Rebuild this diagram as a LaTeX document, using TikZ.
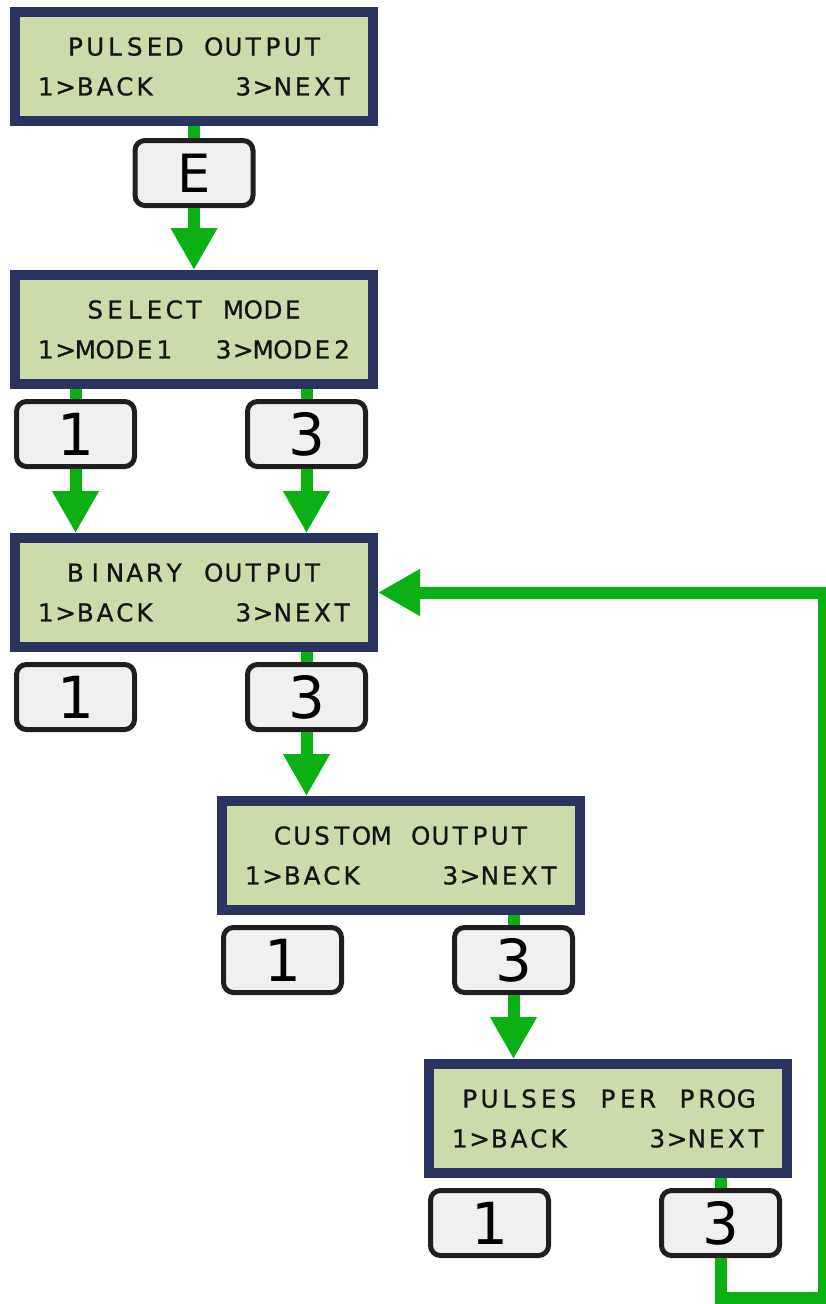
\documentclass[tikz,border=0pt]{standalone}
\usepackage{fontspec}
\setmainfont{DejaVu Sans}
\newfontfamily\lcdfont[FakeBold=0.8]{DejaVu Sans}
\usetikzlibrary{arrows.meta,positioning}
\definecolor{lcdgreen}{RGB}{204,219,170}
\definecolor{lcdframe}{RGB}{43,52,96}
\definecolor{keygray}{RGB}{240,240,240}
\definecolor{flowgreen}{RGB}{10,176,20}
% one character per display cell
\ExplSyntaxOn
\NewDocumentCommand{\lcdrow}{m}{\str_map_inline:nn {#1} {\makebox[11.24pt]{##1}}}
\ExplSyntaxOff
\newcommand{\keyline}[2]{\hbox to 179.84pt{\lcdrow{#1}\hfill\lcdrow{#2}}}

\begin{document}
\begin{tikzpicture}[node distance=2.88cm,
  lcd/.style={draw=lcdframe, fill=lcdgreen, line width=0.2cm, minimum width=7.16cm, minimum height=2.18cm, align=center, text=black!92, font=\lcdfont\fontsize{14}{22.7}\selectfont},
  key/.style={draw=black!88, fill=keygray, line width=0.1cm, rounded corners=0.2cm, minimum width=2.36cm, minimum height=1.3cm, inner sep=0pt, font=\fontsize{33}{33}\selectfont},
  flow/.style={draw=flowgreen, line width=0.24cm},
  tip/.style={-{Triangle[width=0.88cm,length=0.84cm]}}]
\useasboundingbox (0,0) rectangle (16.52,-26.08);
\node[lcd] (P) at (3.88,-1.33) {\lcdrow{PULSED OUTPUT}\\ \keyline{1>BACK}{3>NEXT}};
\node[key] (E) [below=0.24cm of P, font=\fontsize{30}{30}\selectfont] {E};
\node[lcd] (M) [below=of P] {\lcdrow{SELECT MODE}\\ \keyline{1>MODE1}{3>MODE2}};
\node[key] (M1) [below right=0.2cm and 0.08cm of M.south west] {1};
\node[key] (M3) [below left=0.2cm and 0.2cm of M.south east] {3};
\node[lcd] (B) [below=of M] {\lcdrow{BINARY OUTPUT}\\ \keyline{1>BACK}{3>NEXT}};
\node[key] (B1) [below right=0.2cm and 0.08cm of B.south west] {1};
\node[key] (B3) [below left=0.2cm and 0.2cm of B.south east] {3};
\node[lcd] (C) [below=of B, xshift=4.14cm] {\lcdrow{CUSTOM OUTPUT}\\ \keyline{1>BACK}{3>NEXT}};
\node[key] (C1) [below right=0.2cm and 0.08cm of C.south west] {1};
\node[key] (C3) [below left=0.2cm and 0.2cm of C.south east] {3};
\node[lcd] (PP) [below=of C, xshift=4.14cm] {\lcdrow{PULSES PER PROG}\\ \keyline{1>BACK}{3>NEXT}};
\node[key] (PP1) [below right=0.2cm and 0.08cm of PP.south west] {1};
\node[key] (PP3) [below left=0.2cm and 0.2cm of PP.south east] {3};
\coordinate (ret) at (16.48,-25.96);
% menu flow
\draw[flow] (P) -- (E);
\draw[flow,tip] (E) -- (M);
\draw[flow] (M.south -| M1) -- (M1);
\draw[flow,tip] (M1) -- (B.north -| M1);
\draw[flow] (M.south -| M3) -- (M3);
\draw[flow,tip] (M3) -- (B.north -| M3);
\draw[flow] (B.south -| B3) -- (B3);
\draw[flow,tip] (B3) -- (C.north -| B3);
\draw[flow] (C.south -| C3) -- (C3);
\draw[flow,tip] (C3) -- (PP.north -| C3);
\draw[flow] (PP.south -| PP3) -- (PP3);
\draw[flow,tip] (PP3) |- (ret) |- (B);
\end{tikzpicture}
\end{document}
